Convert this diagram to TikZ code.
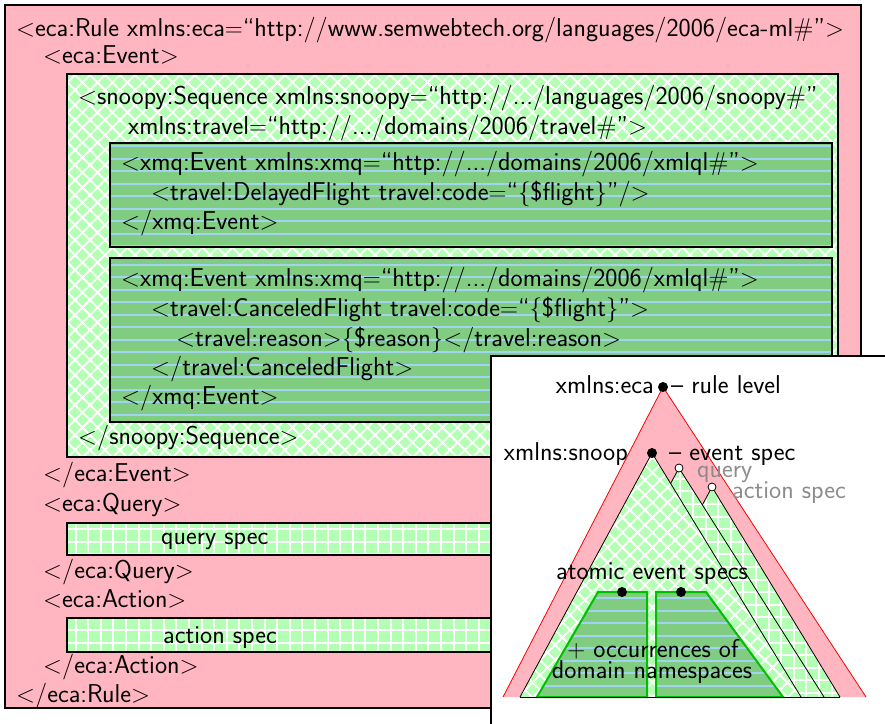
\documentclass[tikz,border=0pt]{standalone}

\definecolor{rulepink}{RGB}{255,182,193}
\definecolor{seqgreen}{RGB}{179,255,179}
\definecolor{evgreen}{RGB}{128,204,128}
\definecolor{evline}{RGB}{160,212,240}
\definecolor{nsgreen}{RGB}{0,190,0}
\definecolor{labelgray}{RGB}{140,140,140}

% white diagonal cross-hatching on light green, clipped to a path
\newcommand\crossfill[1]{%
  \begin{scope}
    \clip #1;
    \fill[seqgreen] #1;
    \foreach \c in {-900,-885,...,900} {\draw[white,line width=2pt] (\c,0) -- ++(900,900);}
    \foreach \c in {0,15,...,1800} {\draw[white,line width=2pt] (\c,0) -- ++(-900,900);}
  \end{scope}}
% white square grid on light green
\newcommand\gridfill[1]{%
  \begin{scope}
    \clip #1;
    \fill[seqgreen] #1;
    \foreach \k in {0,...,71} {\draw[white,line width=2pt] ({12.6*\k},0) -- ({12.6*\k},730);}
    \foreach \k in {0,...,58} {\draw[white,line width=2pt] (0,{12.6*\k}) -- (890,{12.6*\k});}
  \end{scope}}
% light blue horizontal rules on mid green; #2 = first rule
\newcommand\rulefill[2]{%
  \begin{scope}
    \clip #1;
    \fill[evgreen] #1;
    \foreach \k in {0,...,40} {\draw[evline,line width=2pt] (0,{#2+12.5*\k}) -- (890,{#2+12.5*\k});}
  \end{scope}}

\begin{document}
\begin{tikzpicture}[x=1pt,y=-1pt,
  txt/.style={anchor=base west, inner sep=0pt, font=\sffamily\fontsize{25.8}{30}\selectfont},
  ctxt/.style={txt, anchor=base},
  rtxt/.style={txt, anchor=base east},
  box/.style={draw=black, line width=2pt},
  tri/.style={draw=black, line width=0.8pt},
  ns/.style={draw=nsgreen, line width=2pt},
  dot/.style={circle, fill=black, inner sep=0pt, minimum size=10pt},
  odot/.style={circle, draw=black, fill=white, inner sep=0pt, minimum size=8pt, line width=0.8pt}]

\useasboundingbox (0,0) rectangle (885,723);
\fill[white] (0,0) rectangle (885,723);

% ---------- rule document ----------
\fill[rulepink] (5,5) rectangle (861,708);
\draw[box] (5,5) rectangle (861,708);

\crossfill{(67,74) rectangle (838,457)}
\draw[box] (67,74) rectangle (838,457);

\rulefill{(110,143) rectangle (832,247)}{146}
\draw[box] (110,143) rectangle (832,247);
\rulefill{(110,258) rectangle (832,422)}{264.5}
\draw[box] (110,258) rectangle (832,422);

\gridfill{(67,523) rectangle (870,555)}
\draw[box] (67,523) rectangle (870,555);
\gridfill{(67,618) rectangle (870,652)}
\draw[box] (67,618) rectangle (870,652);

\node[txt] (l1) at (16,36) {$<$eca:Rule xmlns:eca$=$``http://www.semwebtech.org/languages/2006/eca-ml\#''$>$};
\node[txt] (l2) at (43,63) {$<$eca:Event$>$};
\node[txt] (l3) at (78,104) {$<$snoopy:Sequence xmlns:snoopy$=$``http://.../languages/2006/snoopy\#''};
\node[txt] (l4) at (128,134) {xmlns:travel$=$``http://.../domains/2006/travel\#''$>$};
\node[txt] (l5) at (121,170) {$<$xmq:Event xmlns:xmq$=$``http://.../domains/2006/xmlql\#''$>$};
\node[txt] (l6) at (151,200) {$<$travel:DelayedFlight travel:code$=$``$\{$\$flight$\}$''/$>$};
\node[txt] (l7) at (121,229) {$<$/xmq:Event$>$};
\node[txt] (l8) at (121,286) {$<$xmq:Event xmlns:xmq$=$``http://.../domains/2006/xmlql\#''$>$};
\node[txt] (l9) at (151,316) {$<$travel:CanceledFlight travel:code$=$``$\{$\$flight$\}$''$>$};
\node[txt] (l10) at (176,346) {$<$travel:reason$>$$\{$\$reason$\}$$<$/travel:reason$>$};
\node[txt] (l11) at (151,375) {$<$/travel:CanceledFlight$>$};
\node[txt] (l12) at (121,404) {$<$/xmq:Event$>$};
\node[txt] (l13) at (78,444) {$<$/snoopy:Sequence$>$};
\node[txt] (l14) at (43,481) {$<$/eca:Event$>$};
\node[txt] (l15) at (43,511) {$<$eca:Query$>$};
\node[txt] (qspec) at (161,544) {query spec};
\node[txt] (l16) at (43,578) {$<$/eca:Query$>$};
\node[txt] (l17) at (43,607) {$<$eca:Action$>$};
\node[txt] (aspec) at (163,643) {action spec};
\node[txt] (l18) at (43,673) {$<$/eca:Action$>$};
\node[txt] (l19) at (16,702) {$<$/eca:Rule$>$};

% ---------- namespace tree ----------
\fill[white] (491,356) rectangle (890,730);
\draw[box] (491,730) -- (491,356) -- (890,356);

% rule level
\fill[rulepink] (503,697) -- (663,387) -- (866,697) -- cycle;
\draw[red, line width=0.8pt] (503,697) -- (663,387) -- (866,697);

% action, query and event triangles
\gridfill{(599,697) -- (712,487) -- (840,697) -- cycle}
\draw[tri] (599,697) -- (712,487) -- (840,697);
\gridfill{(555,697) -- (679,468) -- (824,697) -- cycle}
\draw[tri] (555,697) -- (679,468) -- (824,697);
\crossfill{(520,697) -- (652,453) -- (801,697) -- cycle}
\draw[tri] (520,697) -- (652,453) -- (801,697);

% domain namespaces
\rulefill{(598,592) -- (647,592) -- (647,697) -- (537,697) -- cycle}{598}
\draw[ns] (598,592) -- (647,592) -- (647,697) -- (537,697) -- cycle;
\rulefill{(656,592) -- (706,592) -- (783,697) -- (656,697) -- cycle}{598}
\draw[ns] (656,592) -- (706,592) -- (783,697) -- (656,697) -- cycle;

\draw[tri] (520,697) -- (840,697);

\node[dot] (ecadot) at (663,387) {};
\node[dot] (snoopdot) at (652,453) {};
\node[odot] (qdot) at (679,468) {};
\node[odot] (adot) at (712,487) {};
\node[dot] (at1) at (622,592) {};
\node[dot] (at2) at (681,592) {};

\node[rtxt] (ecans) at (654,393) {xmlns:eca};
\node[txt] (rlev) at (671,393) {-- rule level};
\node[rtxt] (snoopns) at (628,460) {xmlns:snoop};
\node[txt] (evspec) at (669,460) {-- event spec};
\node[txt, text=labelgray] (qlab) at (697,477) {query};
\node[txt, text=labelgray] (alab) at (732,498) {action spec};
\node[ctxt] (atomic) at (652,579) {atomic event specs};
\node[ctxt] (occ) at (653,657) {$+$ occurrences of};
\node[ctxt] (dom) at (652,678) {domain namespaces};
\end{tikzpicture}
\end{document}
